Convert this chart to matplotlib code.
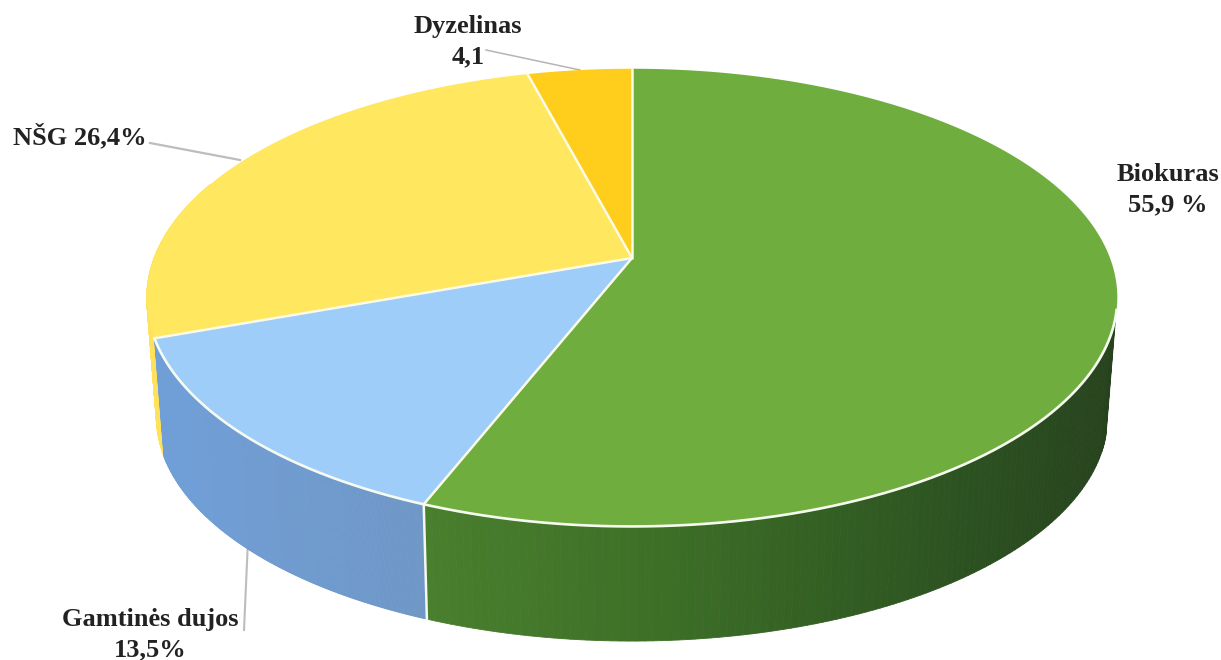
import numpy as np
import matplotlib
matplotlib.use("Agg")
import matplotlib.pyplot as plt
from matplotlib.collections import PolyCollection
from matplotlib.colors import LinearSegmentedColormap
from matplotlib.patches import Polygon

categories = ["Biokuras", "Gamtinės dujos", "NŠG", "Dyzelinas"]
values = [55.9, 13.5, 26.4, 4.1]
label_texts = ["Biokuras\n55,9 %", "Gamtinės dujos\n13,5%", "NŠG 26,4%", "Dyzelinas\n4,1"]
top_colors = ["#70ad3f", "#9dcdf8", "#ffe75f", "#ffcd1c"]

# wall shading: left to right across the pie
wall_stops = {
    "Biokuras": [(0.0, "#4a7f2e"), (0.35, "#3d6f27"), (0.7, "#2f5822"), (1.0, "#27431e")],
    "Gamtinės dujos": [(0.0, "#709fd8"), (1.0, "#6f97c6")],
    "NŠG": [(0.0, "#ffe25a"), (1.0, "#ffe25a")],
    "Dyzelinas": [(0.0, "#ffcd1c"), (1.0, "#ffcd1c")],
}

# perspective of the pie, in picture pixels
CX, CY = 632, 258
A, B, K = 478, 222, 0.173
WALL_DY, WALL_SCALE = 120, 0.98


def project(theta, r=1.0, scale=1.0, dy=0.0):
    # theta runs clockwise from the top of the pie
    u = r * np.sin(theta)
    v = -r * np.cos(theta)
    w = 1 - K * v
    return CX + scale * A * u / w, CY + dy + scale * B * v / w


fig = plt.figure(figsize=(12.21, 6.6), dpi=100)
ax = fig.add_axes([0, 0, 1, 1])
ax.set_xlim(0, 1221)
ax.set_ylim(660, 0)
ax.axis("off")

edges = np.radians(np.concatenate([[0], np.cumsum(values)]) / sum(values) * 360)

# side wall first, the top covers what should be hidden
# reversed so that blue sits over the sliver of yellow
for i in reversed(range(len(categories))):
    name = categories[i]
    th = np.linspace(edges[i], edges[i + 1], 240)
    x1, y1 = project(th)
    x2, y2 = project(th, scale=WALL_SCALE, dy=WALL_DY)
    cmap = LinearSegmentedColormap.from_list(name, wall_stops[name])
    quads = []
    cols = []
    lo, hi = min(x1.min(), x2.min()), max(x1.max(), x2.max())
    for j in range(len(th) - 1):
        if np.cos(th[j]) > -0.25 and np.sin(th[j]) > 0:
            continue
        if np.cos(th[j]) > 0.35:
            continue
        quads.append([(x1[j], y1[j]), (x1[j + 1], y1[j + 1]), (x2[j + 1], y2[j + 1]), (x2[j], y2[j])])
        cols.append(cmap((x1[j] - lo) / (hi - lo)))
    if quads:
        ax.add_collection(PolyCollection(quads, facecolors=cols, edgecolors=cols, linewidths=0.6, zorder=2))

# white seam on the wall where green meets blue
x1, y1 = project(edges[1])
x2, y2 = project(edges[1], scale=WALL_SCALE, dy=WALL_DY)
ax.plot([x1, x2 - 1], [y1, y2], color="#f4f8f0", lw=1.8, zorder=3)

# top of the pie
for i, name in enumerate(categories):
    th = np.linspace(edges[i], edges[i + 1], 240)
    x, y = project(th)
    pts = np.column_stack([np.r_[CX, x], np.r_[CY, y]])
    ax.add_patch(Polygon(pts, closed=True, facecolor=top_colors[i], edgecolor="none", zorder=4))

for e in edges[:-1]:
    x, y = project(e)
    ax.plot([CX, x], [CY, y], color="#fbfbe8", lw=1.8, zorder=5, solid_capstyle="round")

# white rim along the front of the top, blue and green parts
th = np.linspace(edges[2], np.radians(103), 400)
x, y = project(th)
ax.plot(x, y, color="#f7fbef", lw=1.9, zorder=5)

# leader lines
ax.plot([486, 580], [50, 70], color="#b5b5b5", lw=1.1, zorder=1)
ax.plot([150, 240], [143, 160], color="#bdbdbd", lw=1.6, zorder=1)
ax.plot([248, 244], [540, 630], color="#bdbdbd", lw=1.5, zorder=1)

font = dict(family="Liberation Serif", fontweight="bold", color="#222222", fontsize=19, linespacing=1.42)
ax.text(468, 42, label_texts[3], ha="center", va="center", **font)
ax.text(80, 136, label_texts[2], ha="center", va="center", **font)
ax.text(1168, 190, label_texts[0], ha="center", va="center", **font)
ax.text(150, 635, label_texts[1], ha="center", va="center", **font)

fig.savefig("out.png", dpi=100, facecolor="white")
